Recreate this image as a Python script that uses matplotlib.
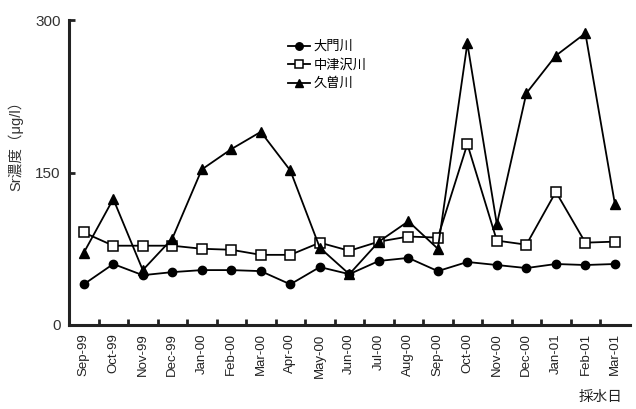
import matplotlib.pyplot as plt
import numpy as np

plt.rcParams['font.family'] = ['Liberation Sans', 'Noto Sans CJK JP', 'DejaVu Sans']

# months sampled
months = ['Sep-99', 'Oct-99', 'Nov-99', 'Dec-99', 'Jan-00', 'Feb-00', 'Mar-00',
          'Apr-00', 'May-00', 'Jun-00', 'Jul-00', 'Aug-00', 'Sep-00', 'Oct-00',
          'Nov-00', 'Dec-00', 'Jan-01', 'Feb-01', 'Mar-01']

# Sr concentration per river
daimon = [40, 60, 49, 52, 54, 54, 53, 40, 57, 50, 63, 66, 53, 62, 59, 56, 60, 59, 60]
nakatsusawa = [91, 78, 78, 78, 75, 74, 69, 69, 81, 73, 82, 87, 86, 178, 83, 79, 131, 81, 82]
kyuso = [71, 124, 54, 85, 153, 173, 190, 152, 76, 50, 82, 102, 75, 277, 99, 228, 265, 287, 119]

series_names = ['大門川', '中津沢川', '久曽川']
yticks = [0, 150, 300]

fig = plt.figure(figsize=(6.36, 4.09), dpi=100)
ax = fig.add_axes([0.1085, 0.2054, 0.8815, 0.7456])

x = np.arange(len(months))
ax.plot(x, daimon, color='black', lw=1.3, marker='o', markersize=6,
        markerfacecolor='black', label=series_names[0])
ax.plot(x, nakatsusawa, color='black', lw=1.3, marker='s', markersize=6.5,
        markerfacecolor='white', markeredgewidth=1.1, label=series_names[1])
ax.plot(x, kyuso, color='black', lw=1.3, marker='^', markersize=7,
        markerfacecolor='black', label=series_names[2])

ax.set_xlim(-0.5, len(months) - 0.5)
ax.set_ylim(0, 300)

for s in ['top', 'right']:
    ax.spines[s].set_visible(False)
for s in ['left', 'bottom']:
    ax.spines[s].set_linewidth(2.2)
    ax.spines[s].set_color('#222222')

# labels at category centres, tick marks at boundaries
ax.set_xticks(x)
ax.set_xticklabels(months, rotation=90, fontsize=9.5, color='#222222')
ax.tick_params(axis='x', which='major', length=0, pad=6)
ax.set_xticks(np.arange(0.5, len(months) - 0.5), minor=True)
ax.tick_params(axis='x', which='minor', direction='in', length=4, width=2, color='#222222')

ax.set_yticks(yticks)
ax.set_yticklabels([str(v) for v in yticks], fontsize=11, color='#333333')
ax.tick_params(axis='y', direction='in', length=4, width=2, color='#222222', pad=6)

fig.text(0.024, 0.653, 'Sr濃度（μg/l）', rotation=90, ha='center', va='center',
         fontsize=10.5, color='#333333')
fig.text(0.945, 0.03, '採水日', ha='center', va='center', fontsize=10.5, color='#222222')

ax.legend(loc='upper left', bbox_to_anchor=(0.39, 0.932), frameon=False,
          borderaxespad=0, borderpad=0,
          handlelength=1.7, handletextpad=0.25, labelspacing=0.45, fontsize=9.5,
          markerscale=0.9)

fig.savefig('out.png', dpi=100)
